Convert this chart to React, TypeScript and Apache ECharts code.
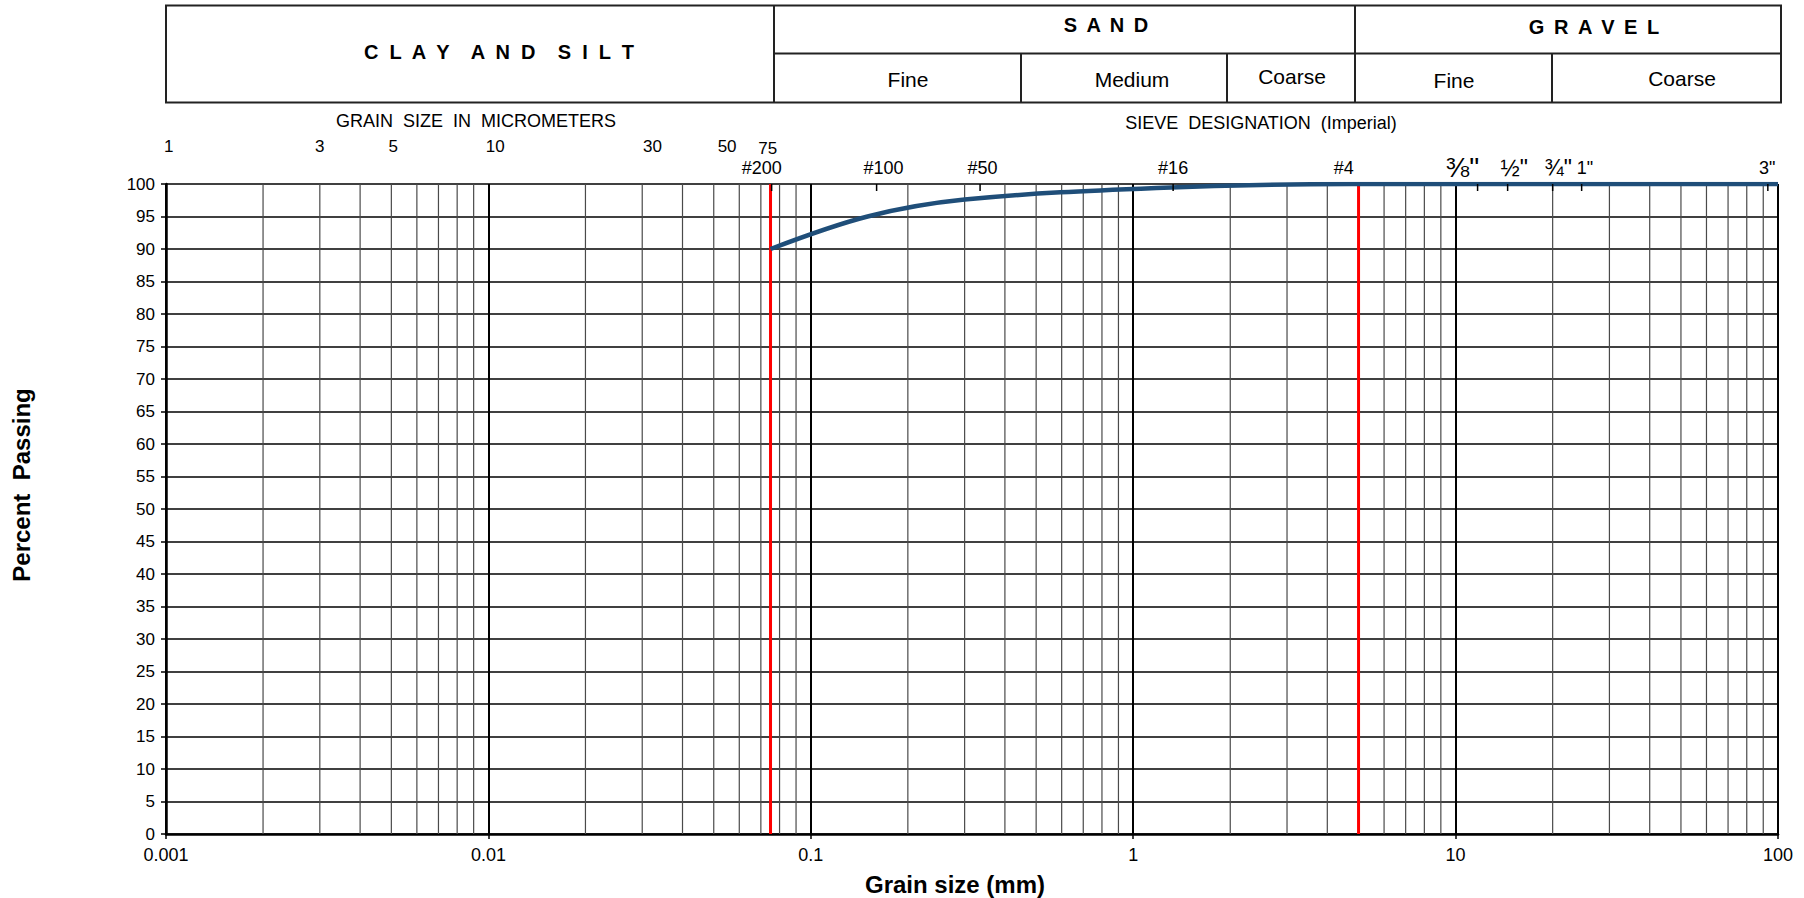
import React, { useEffect, useRef } from "react";
import * as echarts from "echarts";

const FONT = '"Liberation Sans", Arial, Helvetica, sans-serif';

// Gradation curve: grain size (mm) vs percent passing
const grainSizeMm = [0.075, 0.15, 0.3, 1.18, 4.75, 9.5, 12.5, 19, 25, 75, 100];
const percentPassing = [90, 95, 97.6, 99.4, 100, 100, 100, 100, 100, 100, 100];

// Red boundary lines (mm)
const boundaryLinesMm = [0.075, 5];

// Micrometer labels and where they sit along the axis (mm)
const micronLabels = ["1", "3", "5", "10", "30", "50", "75"];
const micronLabelPosMm = [0.00102, 0.003, 0.00507, 0.0105, 0.0323, 0.055, 0.0735];

// Sieve designation labels and where they sit along the axis (mm)
const sieveLabels = ["#200", "#100", "#50", "#16", "#4", "⅜\"", "½\"", "¾\"", "1\"", "3\""];
const sieveLabelPosMm = [0.0704, 0.168, 0.341, 1.33, 4.5, 10.5, 15.2, 20.8, 25.2, 92.5];
const sieveTickPosMm = [0.0756, 0.16, 0.335, 1.33, 11.7, 14.5, 20, 24.6, 93];

// Minor vertical grid (2..9 in each decade)
const minorGridMm: number[] = [];
for (let e = -3; e < 2; e++) {
  for (let m = 2; m <= 9; m++) minorGridMm.push(+(m * Math.pow(10, e)).toPrecision(3));
}

const spaced = (s: string, intra: string, inter: string) =>
  s
    .split(" ")
    .map((w) => w.split("").join(intra))
    .join(inter);

const fmt = (v: number) => String(+Number(v).toPrecision(6));

const vLineSeries = (values: number[], color: string, width: number, z: number) => ({
  type: "custom",
  silent: true,
  z,
  clip: false,
  data: values.map((v) => [v, 0]),
  encode: { x: 0, y: 1 },
  renderItem: (_p: any, api: any) => {
    const v = api.value(0);
    const a = api.coord([v, 0]);
    const b = api.coord([v, 100]);
    return {
      type: "line",
      shape: { x1: a[0], y1: a[1], x2: b[0], y2: b[1] },
      style: { stroke: color, lineWidth: width },
    };
  },
});

const topTickSeries = (values: number[]) => ({
  type: "custom",
  silent: true,
  z: 6,
  clip: false,
  data: values.map((v) => [v, 100]),
  encode: { x: 0, y: 1 },
  renderItem: (_p: any, api: any) => {
    const b = api.coord([api.value(0), 100]);
    return {
      type: "line",
      shape: { x1: b[0], y1: b[1], x2: b[0], y2: b[1] + 7 },
      style: { stroke: "#000", lineWidth: 1.5 },
    };
  },
});

export default function App() {
  const ref = useRef<HTMLDivElement>(null);
  useEffect(() => {
    document.body.style.margin = "0";
    if (!ref.current) return;
    const chart = echarts.init(ref.current, undefined, { renderer: "svg" });
    const option: any = {
      animation: false,
      backgroundColor: "#ffffff",
      textStyle: { fontFamily: FONT },
      grid: { left: 166, right: 26, top: 184, bottom: 64, containLabel: false },
      xAxis: {
        type: "log",
        logBase: 10,
        min: 0.001,
        max: 100,
        axisLine: { show: true, onZero: false, lineStyle: { color: "#000", width: 2.5 } },
        axisTick: { show: true, length: 5, lineStyle: { color: "#000", width: 1.5 } },
        axisLabel: {
          fontSize: 18,
          color: "#000",
          margin: 12,
          fontFamily: FONT,
          formatter: (v: number) => fmt(v),
        },
        splitLine: { show: true, lineStyle: { color: "#000", width: 2 } },
      },
      yAxis: {
        type: "value",
        min: 0,
        max: 100,
        interval: 5,
        axisLine: { show: true, lineStyle: { color: "#000", width: 2.5 } },
        axisTick: { show: true, length: 5, lineStyle: { color: "#000", width: 1.5 } },
        axisLabel: { fontSize: 17, color: "#000", margin: 11, fontFamily: FONT },
        splitLine: { show: true, lineStyle: { color: "#000", width: 1.5 } },
      },
      series: [
        vLineSeries(minorGridMm, "#4a4a4a", 1.2, 1),
        vLineSeries(boundaryLinesMm, "#ff0000", 3, 3),
        topTickSeries(sieveTickPosMm),
        {
          type: "line",
          name: "Percent Passing",
          data: grainSizeMm.map((x, i) => [x, percentPassing[i]]),
          smooth: 0.35,
          showSymbol: false,
          symbol: "none",
          z: 5,
          lineStyle: { color: "#1f4e79", width: 4.5 },
          itemStyle: { color: "#1f4e79" },
        },
      ],
    };
    chart.setOption(option);

    const px = (v: number) => chart.convertToPixel({ xAxisIndex: 0 }, v) as number;

    const stroke = "#222";
    const lw = 2;
    const T = { l: 166, r: 1781, t: 5.5, m: 53.5, b: 102.5 };
    const vline = (x: number, y1: number, y2: number) => ({
      type: "line",
      shape: { x1: x, y1, x2: x, y2 },
      style: { stroke, lineWidth: lw },
    });
    const hline = (x1: number, x2: number, y: number) => ({
      type: "line",
      shape: { x1, y1: y, x2, y2: y },
      style: { stroke, lineWidth: lw },
    });
    const text = (t: string, x: number, y: number, size: number, bold = false) => ({
      type: "text",
      x,
      y,
      style: {
        text: t,
        fontSize: size,
        fontWeight: bold ? "bold" : "normal",
        fontFamily: FONT,
        fill: "#000",
        align: "center",
        verticalAlign: "middle",
      },
    });

    const graphics: any[] = [
      {
        type: "rect",
        shape: { x: T.l, y: T.t, width: T.r - T.l, height: T.b - T.t },
        style: { fill: "none", stroke, lineWidth: lw },
      },
      hline(774, T.r, T.m),
      vline(774, T.t, T.b),
      vline(1355, T.t, T.b),
      vline(1021, T.m, T.b),
      vline(1227, T.m, T.b),
      vline(1552, T.m, T.b),
      text(spaced("CLAY AND SILT", "  ", "    "), 499, 52, 20, true),
      text(spaced("SAND", " \u2009", " "), 1106, 25, 20, true),
      text(spaced("GRAVEL", " \u2009", " "), 1594, 27, 20, true),
      text("Fine", 908, 79, 21),
      text("Medium", 1132, 79, 21),
      text("Coarse", 1292, 76, 21),
      text("Fine", 1454, 80, 21),
      text("Coarse", 1682, 78, 21),
      text("GRAIN  SIZE  IN  MICROMETERS", 476, 121, 18),
      text("SIEVE  DESIGNATION  (Imperial)", 1261, 123, 18),
      text("Grain size (mm)", 955, 884, 24, true),
      {
        type: "text",
        x: 21,
        y: 485,
        rotation: Math.PI / 2,
        style: {
          text: "Percent  Passing",
          fontSize: 24,
          fontWeight: "bold",
          fontFamily: FONT,
          fill: "#000",
          align: "center",
          verticalAlign: "middle",
        },
      },
    ];

    micronLabels.forEach((l, i) => {
      graphics.push(text(l, px(micronLabelPosMm[i]), l === "75" ? 148 : 146, 17));
    });
    sieveLabels.forEach((l, i) => {
      const size = l.includes("⅜") ? 28 : /[½¾]/.test(l) ? 23 : 18;
      graphics.push(text(l, px(sieveLabelPosMm[i]), l.includes("⅜") ? 167 : 168, size));
    });

    chart.setOption({ graphic: graphics });

    return () => chart.dispose();
  }, []);

  return <div ref={ref} style={{ width: 1804, height: 898 }} />;
}
